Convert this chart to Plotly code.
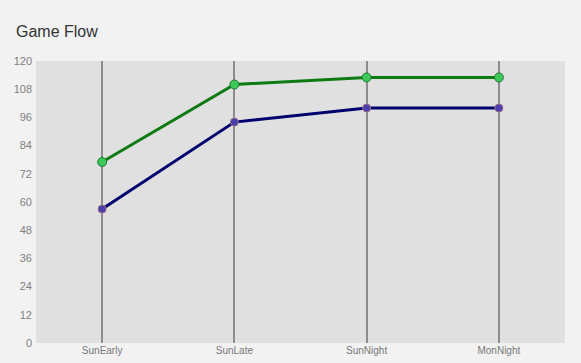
import plotly.graph_objects as go

categories = ["SunEarly", "SunLate", "SunNight", "MonNight"]
series_green = [77, 110, 113, 113]
series_blue = [57, 94, 100, 100]
y_ticks = [0, 12, 24, 36, 48, 60, 72, 84, 96, 108, 120]

fig = go.Figure()
fig.add_trace(go.Scatter(
    x=categories, y=series_blue, mode="lines+markers",
    line=dict(color="#00006e", width=3),
    marker=dict(size=8, color="#4a3fb0", line=dict(color="#9a7080", width=1)),
    showlegend=False, cliponaxis=False,
))
fig.add_trace(go.Scatter(
    x=categories, y=series_green, mode="lines+markers",
    line=dict(color="#0e7a12", width=3),
    marker=dict(size=9, color="#3cc85a", line=dict(color="#1f7a30", width=1)),
    showlegend=False, cliponaxis=False,
))

fig.update_layout(
    width=581, height=363,
    margin=dict(l=36, r=16, t=61, b=20, autoexpand=False),
    paper_bgcolor="#f2f2f2", plot_bgcolor="#e0e0e0",
    title=dict(text="Game Flow", x=0, xref="container", xanchor="left",
               y=1, yref="container", yanchor="top",
               pad=dict(l=16, t=26),
               font=dict(family="Arial, Liberation Sans, sans-serif", size=16, color="#333333")),
    font=dict(family="Arial, Liberation Sans, sans-serif"),
)
fig.update_xaxes(
    type="category", range=[-0.5, 3.5], automargin=False,
    showgrid=True, gridcolor="#8c8c8c", gridwidth=2,
    showline=False, zeroline=False, ticks="",
    tickfont=dict(size=10, color="#777777"),
)
fig.update_yaxes(
    range=[0, 120], tickvals=y_ticks, ticktext=[str(v) for v in y_ticks],
    automargin=False, ticklabelstandoff=3,
    showgrid=False, zeroline=False, showline=False, ticks="",
    tickfont=dict(size=11, color="#808080"),
)
fig.write_html("out.html")
